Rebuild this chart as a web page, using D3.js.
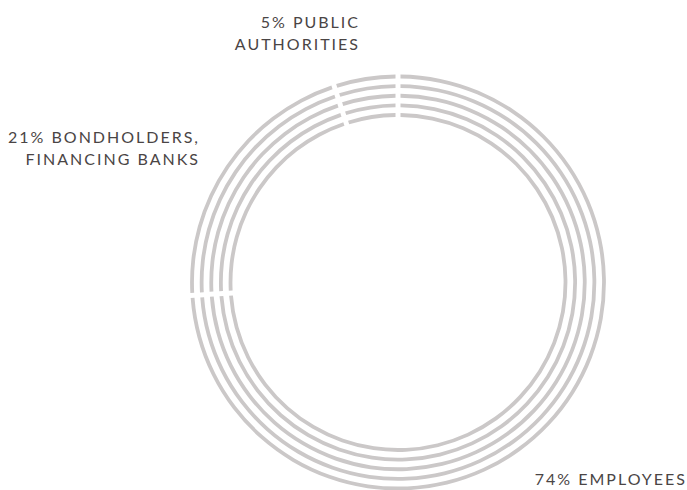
<!DOCTYPE html>
<html>
<head>
<meta charset="utf-8">
<script src="https://cdn.jsdelivr.net/npm/d3@7"></script>
<style>
body { margin: 0; background: #fff; }
.label { font-family: Lato, "Noto Sans", sans-serif; font-size: 16px; letter-spacing: 2px; fill: #4a4545; }
</style>
</head>
<body>
<script>
//data
var categories = ["Employees", "Bondholders, financing banks", "Public authorities"];
var shares = [74, 21, 5];
var labelLines = [
    ["74% EMPLOYEES"],
    ["21% BONDHOLDERS,", "FINANCING BANKS"],
    ["5% PUBLIC", "AUTHORITIES"]
];
var rings = [0, 1, 2, 3, 4];

window.onload = function(){
    var w = 687, h = 490;
    var cx = 398, cy = 282.5;

    var svg = d3.select("body")
        .append("svg")
        .attr("width", w)
        .attr("height", h);

    //ring radius scale, outer ring first
    var r = d3.scaleLinear()
        .domain([0, 4])
        .range([206, 167.5]);

    var pie = d3.pie()
        .sort(null)
        .value(function(d){ return d; });
    var slices = pie(shares);

    var g = svg.append("g")
        .attr("transform", "translate(" + cx + "," + cy + ")");

    var ringG = g.selectAll(".ring")
        .data(rings)
        .enter()
        .append("g")
        .attr("class", "ring");

    ringG.selectAll("path")
        .data(function(ri){
            return slices.map(function(s){ return {slice: s, ring: ri}; });
        })
        .enter()
        .append("path")
        .attr("d", function(d){
            var arc = d3.arc()
                .innerRadius(r(d.ring) - 1.9)
                .outerRadius(r(d.ring) + 1.9)
                .padRadius(100)
                .padAngle(0.05);
            return arc(d.slice);
        })
        .style("fill", "#cbc8c8");

    //labels, right aligned (extra 2px for trailing letter spacing)
    var labelPos = [
        {x: 687, y: 485},
        {x: 200, y: 143},
        {x: 360, y: 28}
    ];
    var labels = svg.selectAll(".label")
        .data(labelLines)
        .enter()
        .append("text")
        .attr("class", "label")
        .attr("text-anchor", "end")
        .attr("y", function(d, i){ return labelPos[i].y; });

    labels.selectAll("tspan")
        .data(function(d, i){
            return d.map(function(t){ return {t: t, i: i}; });
        })
        .enter()
        .append("tspan")
        .attr("x", function(d){ return labelPos[d.i].x; })
        .attr("dy", function(d, j){ return j === 0 ? 0 : 22; })
        .text(function(d){ return d.t; });
};
</script>
</body>
</html>
